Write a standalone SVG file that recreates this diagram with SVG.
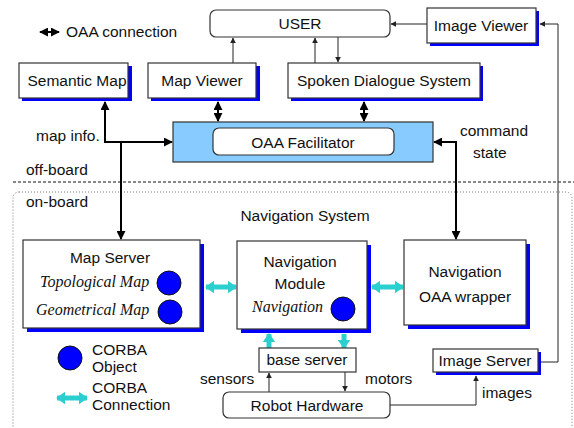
<svg xmlns="http://www.w3.org/2000/svg" width="574" height="428" viewBox="0 0 574 428">
<style>
text{font-family:"Liberation Sans",Arial,sans-serif;font-size:15.5px;fill:#111}
.c{text-anchor:middle}
.it{font-family:"Liberation Serif","Times New Roman",serif;font-style:italic;font-size:16px}
.box{fill:#fff;stroke:#333;stroke-width:1.2}
.sh{fill:#0000ff}
.obj{fill:#0000ff;stroke:#111;stroke-width:1}
.oaa{fill:none;stroke:#000;stroke-width:2;marker-start:url(#ab);marker-end:url(#ab)}
.oaa1{fill:none;stroke:#000;stroke-width:2;marker-end:url(#ab)}
.thin{fill:none;stroke:#222;stroke-width:1;marker-end:url(#at)}
.cy{fill:none;stroke:#2ccfcf;stroke-width:5}
</style>
<defs>
<marker id="ab" viewBox="0 0 10 10" refX="9" refY="5" markerWidth="9" markerHeight="9" markerUnits="userSpaceOnUse" orient="auto-start-reverse"><path d="M0,0 L10,5 L0,10 z" fill="#000"/></marker>
<marker id="at" viewBox="0 0 10 10" refX="9" refY="5" markerWidth="6" markerHeight="6" markerUnits="userSpaceOnUse" orient="auto-start-reverse"><path d="M0,0 L10,5 L0,10 z" fill="#222"/></marker>
<marker id="ac" viewBox="0 0 10 14" refX="9" refY="7" markerWidth="9" markerHeight="13" markerUnits="userSpaceOnUse" orient="auto-start-reverse"><path d="M0,0 L10,7 L0,14 z" fill="#2ccfcf"/></marker>
</defs>
<rect width="574" height="428" fill="#fff"/>

<!-- regions -->
<g id="regions">
<line x1="13" y1="182" x2="574" y2="182" stroke="#111" stroke-width="1" stroke-dasharray="3,2"/>
<rect x="13" y="192" width="559" height="260" rx="6" fill="none" stroke="#777" stroke-width="1" stroke-dasharray="1,2"/>
<text x="26" y="175">off-board</text>
<text x="26" y="207">on-board</text>
<text class="c" x="305" y="221">Navigation System</text>
</g>

<!-- legend -->
<g id="legend">
<line x1="40" y1="32" x2="59" y2="32" class="oaa"/>
<text x="66" y="37">OAA connection</text>
<circle class="obj" cx="70" cy="358" r="12"/>
<text x="92" y="355">CORBA</text>
<text x="92" y="372">Object</text>
<line x1="57" y1="398" x2="87" y2="398" class="cy" marker-start="url(#ac)" marker-end="url(#ac)"/>
<text x="92" y="393">CORBA</text>
<text x="92" y="410">Connection</text>
</g>

<!-- connectors -->
<g id="connectors">
<path class="thin" d="M427,24 H391"/>
<path class="thin" d="M541,362 H558 V24 H540"/>
<path class="thin" d="M233,63 V38"/>
<path class="thin" d="M315,63 V38"/>
<path class="thin" d="M338,37 V62"/>
<path class="oaa" d="M218,102 V121"/>
<path class="oaa" d="M364,102 V121"/>
<path class="oaa" d="M105,102 V142 H172"/>
<path class="oaa1" d="M121,142 V239"/>
<path class="oaa" d="M434,142 H456 V239"/>
<line class="cy" x1="206" y1="287" x2="236" y2="287" marker-start="url(#ac)" marker-end="url(#ac)"/>
<line class="cy" x1="372" y1="287" x2="403" y2="287" marker-start="url(#ac)" marker-end="url(#ac)"/>
<line class="cy" x1="269" y1="348" x2="269" y2="334" marker-end="url(#ac)"/>
<line class="cy" x1="344" y1="334" x2="344" y2="348" marker-end="url(#ac)"/>
<path class="thin" d="M269,392 V373"/>
<path class="thin" d="M345,372 V391"/>
<path class="thin" d="M390,405 H476 V376"/>
<text x="200" y="384">sensors</text>
<text x="365" y="384">motors</text>
<text x="482" y="398">images</text>
<text x="36" y="141">map info.</text>
<text x="460" y="136">command</text>
<text x="473" y="158">state</text>
</g>

<!-- nodes -->
<g id="user">
<rect class="box" x="210" y="10" width="180" height="27" rx="6"/>
<text class="c" x="300" y="29">USER</text>
</g>
<g id="image-viewer">
<rect class="sh" x="430" y="11" width="109" height="35"/>
<rect class="box" x="427" y="8" width="109" height="35"/>
<text class="c" x="481" y="31">Image Viewer</text>
</g>
<g id="semantic-map">
<rect class="sh" x="22" y="66" width="110" height="35"/>
<rect class="box" x="19" y="63" width="109" height="35"/>
<text class="c" x="77" y="86">Semantic Map</text>
</g>
<g id="map-viewer">
<rect class="sh" x="151" y="66" width="109" height="35"/>
<rect class="box" x="148" y="63" width="108" height="35"/>
<text class="c" x="202" y="86">Map Viewer</text>
</g>
<g id="spoken-dialogue">
<rect class="sh" x="291" y="66" width="192" height="35"/>
<rect class="box" x="288" y="63" width="192" height="35"/>
<text class="c" x="384" y="86">Spoken Dialogue System</text>
</g>
<g id="oaa-facilitator">
<rect x="173" y="122" width="260" height="40" fill="#88ccff" stroke="#333" stroke-width="1.2"/>
<rect class="box" x="213" y="128" width="181" height="27" rx="6"/>
<text class="c" x="303" y="148">OAA Facilitator</text>
</g>
<g id="map-server">
<rect class="sh" x="27" y="244" width="177" height="88"/>
<rect class="box" x="23" y="240" width="177" height="88"/>
<text class="c" x="110" y="263">Map Server</text>
<text class="it" x="40" y="287">Topological Map</text>
<circle class="obj" cx="169" cy="283" r="12"/>
<text class="it" x="36" y="315">Geometrical Map</text>
<circle class="obj" cx="170" cy="312" r="12"/>
</g>
<g id="navigation-module">
<rect class="sh" x="241" y="245" width="130" height="88"/>
<rect class="box" x="237" y="241" width="130" height="88"/>
<text class="c" x="300" y="267">Navigation</text>
<text class="c" x="300" y="289">Module</text>
<text class="it" x="252" y="312">Navigation</text>
<circle class="obj" cx="343" cy="309" r="12"/>
</g>
<g id="navigation-oaa-wrapper">
<rect class="sh" x="408" y="244" width="122" height="85"/>
<rect class="box" x="404" y="240" width="122" height="85"/>
<text class="c" x="465" y="277">Navigation</text>
<text class="c" x="465" y="302">OAA wrapper</text>
</g>
<g id="base-server">
<rect class="box" x="259" y="348" width="97" height="24"/>
<text class="c" x="307" y="365">base server</text>
</g>
<g id="robot-hardware">
<rect class="box" x="223" y="392" width="167" height="26" rx="6"/>
<text class="c" x="307" y="411">Robot Hardware</text>
</g>
<g id="image-server">
<rect class="sh" x="436" y="352" width="105" height="23"/>
<rect class="box" x="433" y="349" width="105" height="23"/>
<text class="c" x="485" y="366">Image Server</text>
</g>
</svg>
